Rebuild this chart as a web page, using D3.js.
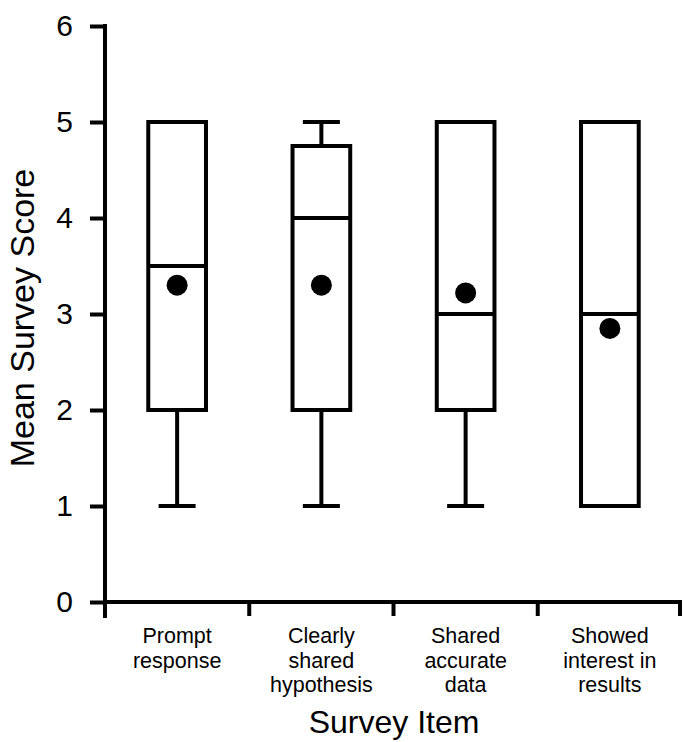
<!DOCTYPE html>
<html><head><meta charset="utf-8">
<script src="https://cdn.jsdelivr.net/npm/d3@7"></script>
<style>body{margin:0;background:#fff}svg{display:block}</style>
</head><body>
<script>
const categories = [["Prompt","response"],["Clearly","shared","hypothesis"],["Shared","accurate","data"],["Showed","interest in","results"]];
const mins = [1,1,1,1];
const q1s = [2,2,2,1];
const medians = [3.5,4,3,3];
const q3s = [5,4.75,5,5];
const maxs = [5,5,5,5];
const means = [3.3,3.3,3.22,2.85];
const yTicks = [0,1,2,3,4,5,6];

const W=684,H=742;
const svg=d3.select("body").append("svg").attr("width",W).attr("height",H);
const font="Liberation Sans, Arial, sans-serif";
const x0=105,x1=682,y0=602,y1=26;
const x=d3.scaleBand().domain(d3.range(categories.length)).range([x0,x1]).paddingInner(0.6).paddingOuter(0.3);
const y=d3.scaleLinear().domain([0,6]).range([y0,y1]);
const sw=4;

// y axis
const ya=svg.append("g").attr("transform",`translate(${x0},0)`)
  .call(d3.axisLeft(y).tickValues(yTicks).tickSize(15).tickPadding(17).tickFormat(d3.format("d")));
ya.select(".domain").attr("stroke","#000").attr("stroke-width",sw).attr("d",`M0,${y1-2}V${y0+16}`);
ya.selectAll(".tick line").attr("stroke","#000").attr("stroke-width",sw);
ya.selectAll(".tick text").attr("font-family",font).attr("font-size",30).attr("fill","#000");

// x axis
const xa=svg.append("g");
xa.append("line").attr("x1",x0-2).attr("x2",x1).attr("y1",y0).attr("y2",y0).attr("stroke","#000").attr("stroke-width",sw);
xa.selectAll("line.tk").data(d3.range(categories.length+1)).join("line").attr("class","tk")
  .attr("x1",i=>i===0?x0:(i===categories.length?x1-2:x0+i*(x1-x0)/categories.length))
  .attr("x2",i=>i===0?x0:(i===categories.length?x1-2:x0+i*(x1-x0)/categories.length))
  .attr("y1",y0).attr("y2",y0+14).attr("stroke","#000").attr("stroke-width",sw);

// category labels
categories.forEach((lines,i)=>{
  const t=svg.append("text").attr("font-family",font).attr("font-size",21.5).attr("text-anchor","middle").attr("fill","#000");
  lines.forEach((l,j)=>t.append("tspan").attr("x",x(i)+x.bandwidth()/2).attr("y",643+j*24.5).text(l));
});

// boxes
const g=svg.append("g").attr("stroke","#000").attr("stroke-width",sw).attr("fill","none");
categories.forEach((c,i)=>{
  const cx=x(i)+x.bandwidth()/2, bw=x.bandwidth();
  if(mins[i]<q1s[i]){
    g.append("line").attr("x1",cx).attr("x2",cx).attr("y1",y(q1s[i])).attr("y2",y(mins[i]));
    g.append("line").attr("x1",cx-18.5).attr("x2",cx+18.5).attr("y1",y(mins[i])).attr("y2",y(mins[i]));
  }
  if(maxs[i]>q3s[i]){
    g.append("line").attr("x1",cx).attr("x2",cx).attr("y1",y(q3s[i])).attr("y2",y(maxs[i]));
    g.append("line").attr("x1",cx-18.5).attr("x2",cx+18.5).attr("y1",y(maxs[i])).attr("y2",y(maxs[i]));
  }
  g.append("rect").attr("x",x(i)).attr("width",bw).attr("y",y(q3s[i])).attr("height",y(q1s[i])-y(q3s[i])).attr("fill","#fff");
  g.append("line").attr("x1",x(i)).attr("x2",x(i)+bw).attr("y1",y(medians[i])).attr("y2",y(medians[i]));
  svg.append("circle").attr("cx",cx).attr("cy",y(means[i])).attr("r",10.5).attr("fill","#000");
});

// titles
svg.append("text").attr("x",394).attr("y",733).attr("text-anchor","middle").attr("font-family",font).attr("font-size",32).text("Survey Item");
svg.append("text").attr("transform","translate(34,318) rotate(-90)").attr("text-anchor","middle").attr("font-family",font).attr("font-size",34).text("Mean Survey Score");
</script>
</body></html>
